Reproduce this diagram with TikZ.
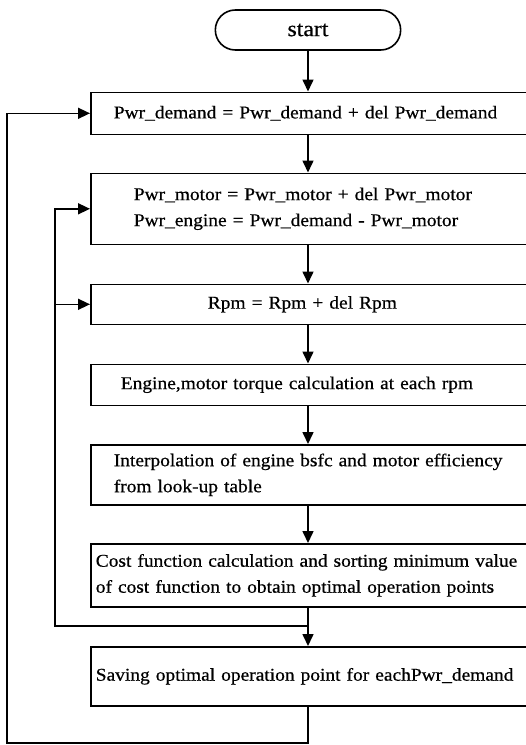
\documentclass[tikz,border=0pt]{standalone}
\usepackage{fontspec}
\setmainfont{Liberation Serif}[FakeStretch=1.08, FakeBold=0.6]
\usetikzlibrary{arrows.meta, shapes.misc}

\begin{document}
\begin{tikzpicture}[
   x=1pt, y=-1pt,
   line width=1.6pt,
   font=\fontsize{18}{26}\selectfont,
   arr/.style={
     -{Triangle[length=12pt,width=11pt]},
    },
   term/.style={
     rounded rectangle,
     draw,
     minimum width=192pt,
     minimum height=40pt,
     font=\fontsize{22}{26}\selectfont,
    },
   box/.style={
     draw,
     anchor=north west,
     align=left,
     inner xsep=#1,
     inner ysep=0pt,
     text width=470pt-2*#1,
    },
  ]

\useasboundingbox (0,0) rectangle (526,745);
\clip (0,0) rectangle (526,745);

\node[term] (start) at (308,30) {start};
\node[box=23pt, minimum height=42pt] (dem) at (90,91.5) {Pwr\_demand = Pwr\_demand + del Pwr\_demand};
\node[box=43pt, minimum height=71pt] (mot) at (90,172.5) {Pwr\_motor = Pwr\_motor + del Pwr\_motor\\Pwr\_engine = Pwr\_demand - Pwr\_motor};
\node[box=117pt, minimum height=40pt] (rpm) at (90,283.5) {Rpm = Rpm + del Rpm};
\node[box=30pt, minimum height=41pt] (torq) at (90,363.5) {Engine,motor torque calculation at each rpm};
\node[box=23pt, minimum height=60pt] (interp) at (90,444) {Interpolation of engine bsfc and motor efficiency\\from look-up table};
\node[box=5pt, minimum height=63pt] (cost) at (90,543) {Cost function calculation and sorting minimum value\\of cost function to obtain optimal operation points};
\node[box=5pt, minimum height=59pt] (save) at (90,646) {Saving optimal operation point for eachPwr\_demand};

\coordinate (inner) at (55,626);
\coordinate (outer) at (7,743);

\draw[arr] (start) -- (dem.north -| start);
\draw[arr] (dem.south -| start) -- (mot.north -| start);
\draw[arr] (mot.south -| start) -- (rpm.north -| start);
\draw[arr] (rpm.south -| start) -- (torq.north -| start);
\draw[arr] (torq.south -| start) -- (interp.north -| start);
\draw[arr] (interp.south -| start) -- (cost.north -| start);
\draw[arr] (cost.south -| start) -- (save.north -| start);
\draw[arr] (cost.south -| start) |- (inner) |- (mot.west);
\draw[arr] (inner |- rpm.west) -- (rpm.west);
\draw[arr] (save.south -| start) |- (outer) |- (dem.west);
\end{tikzpicture}
\end{document}
